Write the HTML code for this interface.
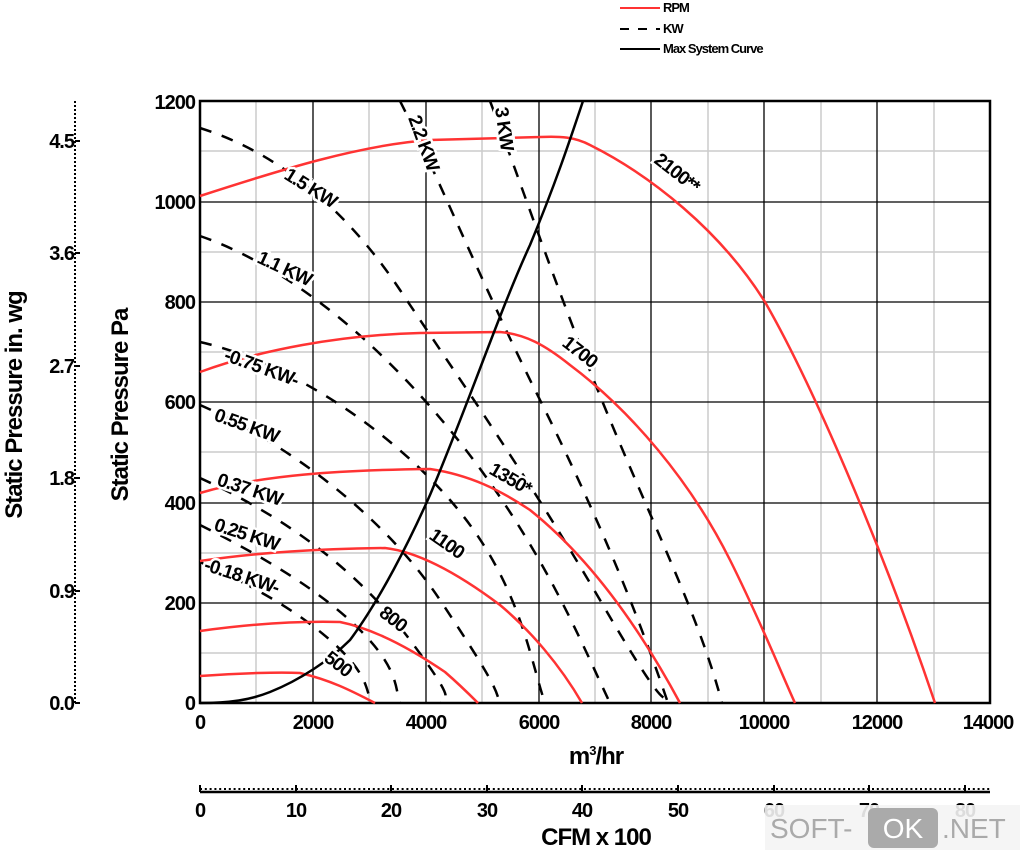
<!DOCTYPE html>
<html><head><meta charset="utf-8"><style>
body{margin:0;background:#fff}
svg{display:block;font-family:"Liberation Sans",sans-serif;font-weight:bold}
</style></head><body>
<svg width="1020" height="850" viewBox="0 0 1020 850">
<line x1="620" y1="8" x2="660" y2="8" stroke="#f33" stroke-width="2"/>
<text x="663" y="12" font-size="13" letter-spacing="-1">RPM</text>
<line x1="620" y1="29" x2="660" y2="29" stroke="#000" stroke-width="2" stroke-dasharray="9,9"/>
<text x="663" y="33" font-size="13" letter-spacing="-1">KW</text>
<line x1="620" y1="49" x2="660" y2="49" stroke="#000" stroke-width="2"/>
<text x="663" y="53" font-size="13" letter-spacing="-1">Max System Curve</text>
<g stroke="#ccc" stroke-width="1.5">
<line x1="256" y1="101" x2="256" y2="703"/><line x1="369" y1="101" x2="369" y2="703"/><line x1="482" y1="101" x2="482" y2="703"/><line x1="595" y1="101" x2="595" y2="703"/><line x1="708" y1="101" x2="708" y2="703"/><line x1="821" y1="101" x2="821" y2="703"/><line x1="934" y1="101" x2="934" y2="703"/>
<line x1="200" y1="151" x2="990" y2="151"/><line x1="200" y1="252" x2="990" y2="252"/><line x1="200" y1="352" x2="990" y2="352"/><line x1="200" y1="452" x2="990" y2="452"/><line x1="200" y1="553" x2="990" y2="553"/><line x1="200" y1="653" x2="990" y2="653"/>
</g>
<g stroke="#000" stroke-width="1.3">
<line x1="313" y1="101" x2="313" y2="703"/><line x1="426" y1="101" x2="426" y2="703"/><line x1="539" y1="101" x2="539" y2="703"/><line x1="651" y1="101" x2="651" y2="703"/><line x1="764" y1="101" x2="764" y2="703"/><line x1="877" y1="101" x2="877" y2="703"/>
<line x1="200" y1="202" x2="990" y2="202"/><line x1="200" y1="302" x2="990" y2="302"/><line x1="200" y1="402" x2="990" y2="402"/><line x1="200" y1="503" x2="990" y2="503"/><line x1="200" y1="603" x2="990" y2="603"/>
</g>
<rect x="200" y="101" width="790" height="602" fill="none" stroke="#000" stroke-width="2.5"/>
<g fill="none" stroke="#000" stroke-width="2.5" stroke-dasharray="12,11">
<path d="M200,562 C240,580 290,605 330,640 S365,690 372,703"/>
<path d="M200,525 C260,555 320,590 360,630 S395,690 400,703"/>
<path d="M200,478 C270,510 350,560 410,640 S435,690 440,703"/>
<path d="M200,405 C280,440 380,510 440,600 S495,690 500,703"/>
<path d="M200,342 C280,360 380,420 450,500 S530,660 545,703"/>
<path d="M200,236 C270,260 360,320 450,430 S580,640 610,703"/>
<path d="M200,128 C270,150 340,200 400,290 S530,480 600,600 S660,690 670,703"/>
<path d="M400,101 C440,180 480,280 540,400 S640,620 668,703"/>
<path d="M490,101 C520,180 560,300 610,420 S700,620 722,703"/>
</g>
<g fill="none" stroke="#f33" stroke-width="2.5">
<path d="M200,196 C280,170 360,145 430,140 L540,137 C560,136 575,137 590,145 C650,175 720,230 765,302 C810,380 880,540 935,703"/>
<path d="M200,372 C260,350 340,335 420,333 L500,332 C525,334 545,345 570,365 C630,410 690,480 730,560 C760,620 780,670 795,703"/>
<path d="M200,493 C260,475 340,470 430,469 C470,475 500,490 530,510 C580,550 630,610 680,703"/>
<path d="M200,561 C260,552 320,549 385,548 C420,552 460,575 500,605 C530,630 560,665 582,703"/>
<path d="M200,631 C250,624 300,621 340,622 C380,630 420,655 445,672 C460,685 470,695 478,703"/>
<path d="M200,676 C240,673 280,672 300,673 C330,680 350,690 375,703"/>
</g>
<path d="M200,703 C230,703 250,700 270,692 C300,680 330,660 350,640 C380,600 410,540 430,495 C470,400 500,310 530,245 C555,185 570,140 583,101" fill="none" stroke="#000" stroke-width="2.5"/>
<g font-size="19" letter-spacing="-1">
<text transform="translate(283,178) rotate(32)" paint-order="stroke" stroke="#fff" stroke-width="5">1.5 KW</text>
<text transform="translate(408,118) rotate(70)" paint-order="stroke" stroke="#fff" stroke-width="5">2.2 KW</text>
<text transform="translate(495,108) rotate(82)" paint-order="stroke" stroke="#fff" stroke-width="5">3 KW</text>
<text transform="translate(653,162) rotate(38)" paint-order="stroke" stroke="#fff" stroke-width="5">2100**</text>
<text transform="translate(256,262) rotate(25)" paint-order="stroke" stroke="#fff" stroke-width="5">1.1 KW</text>
<text transform="translate(561,345) rotate(38)" paint-order="stroke" stroke="#fff" stroke-width="5">1700</text>
<text transform="translate(223,360) rotate(20)" paint-order="stroke" stroke="#fff" stroke-width="5">-0.75 KW-</text>
<text transform="translate(213,420) rotate(20)" paint-order="stroke" stroke="#fff" stroke-width="5">0.55 KW</text>
<text transform="translate(488,473) rotate(30)" paint-order="stroke" stroke="#fff" stroke-width="5">1350*</text>
<text transform="translate(216,485) rotate(18)" paint-order="stroke" stroke="#fff" stroke-width="5">0.37 KW</text>
<text transform="translate(428,538) rotate(35)" paint-order="stroke" stroke="#fff" stroke-width="5">1100</text>
<text transform="translate(213,530) rotate(18)" paint-order="stroke" stroke="#fff" stroke-width="5">0.25 KW</text>
<text transform="translate(203,570) rotate(18)" paint-order="stroke" stroke="#fff" stroke-width="5">-0.18 KW-</text>
<text transform="translate(378,615) rotate(38)" paint-order="stroke" stroke="#fff" stroke-width="5">800</text>
<text transform="translate(323,660) rotate(38)" paint-order="stroke" stroke="#fff" stroke-width="5">500</text>
</g>
<g font-size="20" text-anchor="end" letter-spacing="-1">
<text x="195" y="109">1200</text><text x="195" y="209">1000</text><text x="195" y="309">800</text><text x="195" y="409">600</text><text x="195" y="510">400</text><text x="195" y="610">200</text><text x="195" y="710">0</text>
</g>
<g font-size="20" text-anchor="middle" letter-spacing="-1">
<text x="200" y="729">0</text><text x="313" y="729">2000</text><text x="426" y="729">4000</text><text x="539" y="729">6000</text><text x="651" y="729">8000</text><text x="764" y="729">10000</text><text x="877" y="729">12000</text><text x="988" y="729">14000</text>
</g>
<text x="596" y="764" font-size="24" text-anchor="middle" letter-spacing="-1">m<tspan dy="-9" font-size="13">3</tspan><tspan dy="9">/hr</tspan></text>
<text transform="translate(128,405) rotate(-90)" font-size="24" text-anchor="middle" letter-spacing="-1">Static Pressure Pa</text>
<line x1="75" y1="101" x2="75" y2="703" stroke="#000" stroke-width="2" stroke-dasharray="2,2"/>
<g stroke="#000" stroke-width="2"><line x1="75" y1="141" x2="80" y2="141"/><line x1="75" y1="253" x2="80" y2="253"/><line x1="75" y1="366" x2="80" y2="366"/><line x1="75" y1="478" x2="80" y2="478"/><line x1="75" y1="591" x2="80" y2="591"/><line x1="75" y1="703" x2="80" y2="703"/></g>
<g font-size="20" text-anchor="end" letter-spacing="-1">
<text x="74" y="148">4.5</text><text x="74" y="260">3.6</text><text x="74" y="373">2.7</text><text x="74" y="485">1.8</text><text x="74" y="598">0.9</text><text x="74" y="710">0.0</text>
</g>
<text transform="translate(22,405) rotate(-90)" font-size="24" text-anchor="middle" letter-spacing="-1">Static Pressure in. wg</text>
<line x1="200" y1="792" x2="990" y2="792" stroke="#000" stroke-width="2.5"/>
<line x1="200" y1="789" x2="990" y2="789" stroke="#000" stroke-width="2" stroke-dasharray="2,2.8"/>
<g stroke="#000" stroke-width="2"><line x1="200" y1="785" x2="200" y2="792"/><line x1="296" y1="785" x2="296" y2="792"/><line x1="391" y1="785" x2="391" y2="792"/><line x1="487" y1="785" x2="487" y2="792"/><line x1="582" y1="785" x2="582" y2="792"/><line x1="678" y1="785" x2="678" y2="792"/><line x1="774" y1="785" x2="774" y2="792"/><line x1="869" y1="785" x2="869" y2="792"/><line x1="965" y1="785" x2="965" y2="792"/></g>
<g font-size="20" text-anchor="middle" letter-spacing="-1">
<text x="200" y="817">0</text><text x="296" y="817">10</text><text x="391" y="817">20</text><text x="487" y="817">30</text><text x="582" y="817">40</text><text x="678" y="817">50</text><text x="774" y="817">60</text><text x="869" y="817">70</text><text x="965" y="817">80</text>
</g>
<text x="596" y="845" font-size="24" text-anchor="middle" letter-spacing="-1">CFM x 100</text>
<rect x="765" y="805" width="255" height="45" fill="#f4f4f4" opacity="0.9"/>
<rect x="868" y="808" width="70" height="40" rx="6" fill="#aaa"/>
<text x="770" y="838" font-size="28" font-weight="normal" fill="#aaa">SOFT-</text>
<text x="903" y="838" font-size="28" font-weight="normal" fill="#fff" text-anchor="middle">OK</text>
<text x="942" y="838" font-size="28" font-weight="normal" fill="#aaa">.NET</text>
</svg>
</body></html>
